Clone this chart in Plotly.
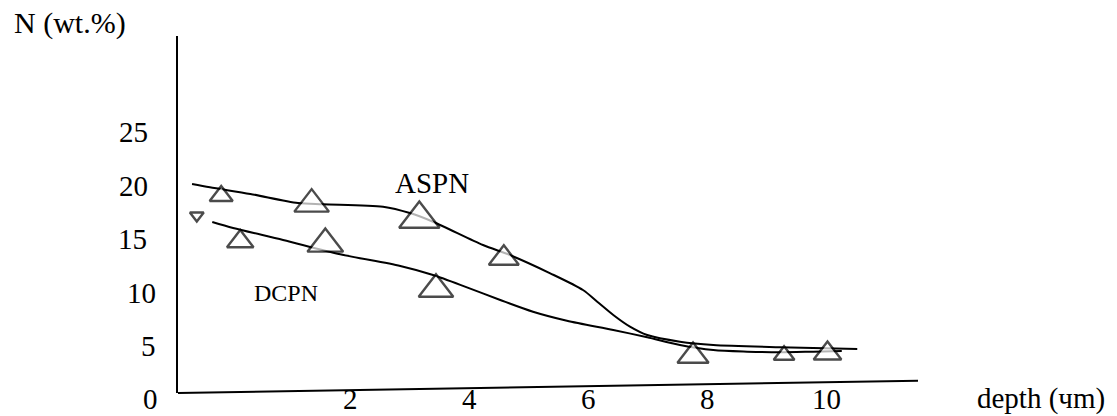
import plotly.graph_objects as go

# ---- data ----
# smooth curves (depth in μm, N in wt.%)
aspn_curve_depth = [-0.66, -0.36, 0.32, 1.12, 1.54, 2.55, 3.00, 3.39, 4.23, 4.68, 5.36, 5.91,
                    6.15, 6.42, 6.70, 6.99, 7.54, 8.10, 9.22, 10.52]
aspn_curve_n = [20.15, 19.84, 19.22, 18.38, 18.26, 18.03, 17.44, 16.63, 14.46, 13.53, 11.82, 10.26,
                9.17, 7.93, 6.84, 6.06, 5.44, 5.13, 4.92, 4.76]
dcpn_curve_depth = [-0.32, 0.03, 0.87, 1.83, 2.84, 3.39, 3.96, 4.52, 5.07, 5.64, 6.42, 6.99,
                    7.54, 8.10, 8.67, 9.22, 9.78, 10.26]
dcpn_curve_n = [16.60, 16.04, 14.93, 13.59, 12.50, 11.66, 10.51, 9.33, 8.24, 7.40, 6.53, 5.85,
                5.13, 4.66, 4.51, 4.45, 4.51, 4.57]

# measured points
aspn_depth = [-0.17, 1.35, 3.16, 4.58, 7.76, 9.29, 10.02]
aspn_n = [19.03, 18.27, 16.89, 13.22, 4.10, 4.17, 4.34]
dcpn_depth = [-0.58, 0.15, 1.58, 3.44]
dcpn_n = [17.21, 14.78, 14.56, 10.33]

x_ticks = [2, 4, 6, 8, 10]
y_ticks = [5, 10, 15, 20, 25]

# ---- styles ----
FONT = "Liberation Serif"
aspn_sizes = [20, 30, 35, 26, 27, 18, 24]
dcpn_sizes = [12, 23, 31, 30]
dcpn_symbols = ["triangle-down", "triangle-up", "triangle-up", "triangle-up"]
y_label_xshift = [-20, -20, -29, -28, -28]    # px from axis line to right edge of label

fig = go.Figure()
fig.add_trace(go.Scatter(x=aspn_curve_depth, y=aspn_curve_n, mode="lines",
                         line=dict(color="black", width=2, shape="spline", smoothing=0.8),
                         hoverinfo="skip", showlegend=False))
fig.add_trace(go.Scatter(x=dcpn_curve_depth, y=dcpn_curve_n, mode="lines",
                         line=dict(color="black", width=2, shape="spline", smoothing=0.8),
                         hoverinfo="skip", showlegend=False))
fig.add_trace(go.Scatter(x=aspn_depth, y=aspn_n, mode="markers", name="ASPN",
                         marker=dict(symbol="triangle-up", size=aspn_sizes, color="white",
                                     line=dict(color="black", width=2.4)),
                         showlegend=False))
fig.add_trace(go.Scatter(x=dcpn_depth, y=dcpn_n, mode="markers", name="DCPN",
                         marker=dict(symbol=dcpn_symbols, size=dcpn_sizes, color="white",
                                     line=dict(color="black", width=2.4)),
                         showlegend=False))

# slanted x axis line (hand-drawn look)
fig.add_shape(type="line", xref="paper", yref="paper", x0=0, y0=0, x1=1, y1=0.0345,
              line=dict(color="black", width=2))

annotations = []
for v in x_ticks:
    annotations.append(dict(text=str(v), xref="x", yref="paper", x=v, y=-0.0182,
                            xanchor="center", yanchor="middle", showarrow=False))
for v, dx in zip(y_ticks, y_label_xshift):
    annotations.append(dict(text=str(v), xref="paper", yref="y", x=0, y=v, xshift=dx,
                            xanchor="right", yanchor="middle", showarrow=False))
annotations += [
    dict(text="0", xref="paper", yref="paper", x=-0.0378, y=-0.0168,
         xanchor="center", yanchor="middle", showarrow=False),
    dict(text="N (wt.%)", xref="paper", yref="paper", x=-0.2243, y=1.0364,
         xanchor="left", yanchor="middle", showarrow=False, font=dict(size=30)),
    dict(text="depth (чm)", xref="paper", yref="paper", x=1.077, y=-0.0168,
         xanchor="left", yanchor="middle", showarrow=False),
    dict(text="ASPN", xref="paper", yref="paper", x=0.3426, y=0.588,
         xanchor="center", yanchor="middle", showarrow=False),
    dict(text="DCPN", xref="paper", yref="paper", x=0.1466, y=0.2801,
         xanchor="center", yanchor="middle", showarrow=False, font=dict(size=24)),
]

fig.update_layout(
    template="none",
    width=1117, height=416,
    margin=dict(l=178, r=199, t=36, b=23),
    paper_bgcolor="white", plot_bgcolor="white",
    font=dict(family=FONT, size=29, color="black"),
    xaxis=dict(range=[-0.896, 11.541], showgrid=False, zeroline=False, showline=False,
               automargin=False, showticklabels=False, ticks="", fixedrange=True),
    yaxis=dict(range=[0.653, 33.955], showgrid=False, zeroline=False, showline=True,
               linecolor="black", linewidth=2, automargin=False,
               showticklabels=False, ticks="", fixedrange=True),
    hovermode=False,
    annotations=annotations,
)

fig.write_html("out.html", config={"displayModeBar": False},
               post_script="document.body.style.margin='0';document.body.style.overflow='hidden';")
